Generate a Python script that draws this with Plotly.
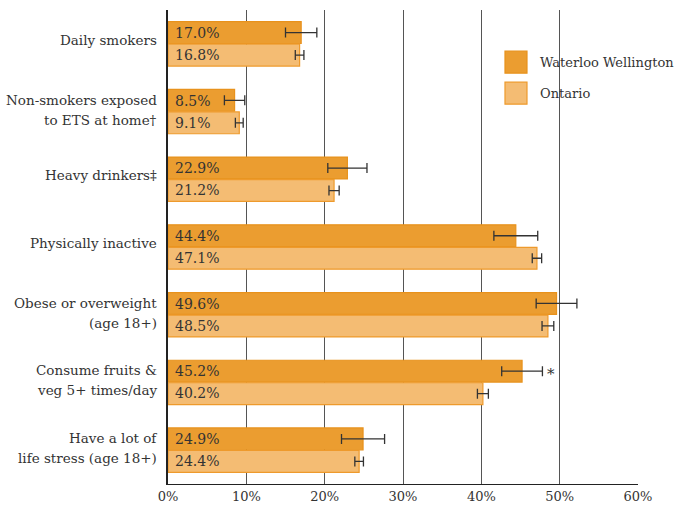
import plotly.graph_objects as go

categories = ["Daily smokers", "Non-smokers exposed<br>to ETS at home†", "Heavy drinkers‡",
              "Physically inactive", "Obese or overweight<br>(age 18+)",
              "Consume fruits &<br>veg 5+ times/day", "Have a lot of<br>life stress (age 18+)"]
ww_values = [17.0, 8.5, 22.9, 44.4, 49.6, 45.2, 24.9]
ww_err = [2.0, 1.3, 2.5, 2.8, 2.6, 2.6, 2.75]
on_values = [16.8, 9.1, 21.2, 47.1, 48.5, 40.2, 24.4]
on_err = [0.55, 0.5, 0.65, 0.6, 0.75, 0.7, 0.55]
x_ticks = [0, 10, 20, 30, 40, 50, 60]
series_names = ["Waterloo Wellington", "Ontario"]

FONT = "DejaVu Serif"
TXT = "#333333"
WW_FILL, WW_LINE = "#EB9D30", "#E8921C"
ON_FILL, ON_LINE = "#F4BC73", "#EE9A2C"

fig = go.Figure()
for name, vals, errs, fill, line in [
    (series_names[0], ww_values, ww_err, WW_FILL, WW_LINE),
    (series_names[1], on_values, on_err, ON_FILL, ON_LINE),
]:
    fig.add_trace(go.Bar(
        y=categories, x=vals, orientation="h", name=name,
        marker=dict(color=fill, line=dict(color=line, width=1.2)),
        error_x=dict(type="data", array=errs, color="#333333", thickness=1.3, width=5),
        showlegend=False, hoverinfo="skip",
    ))

# category labels (drawn as annotations so line spacing can match)
for c in categories:
    lines = c.split("<br>")
    shifts = [4] if len(lines) == 1 else [12, -8]
    for ln, s in zip(lines, shifts):
        fig.add_annotation(xref="paper", x=0, y=c, text=ln, showarrow=False, xanchor="right",
                           xshift=-9, yshift=s, font=dict(family=FONT, size=13.5, color=TXT))

# value labels inside bars, at the left end
for vals, shift in [(ww_values, 11), (on_values, -11)]:
    for c, v in zip(categories, vals):
        fig.add_annotation(x=0, y=c, text=f"{v:.1f}%", showarrow=False, xanchor="left",
                           xshift=5, yshift=shift, font=dict(family=FONT, size=14, color=TXT))

# asterisk for significant difference
fig.add_annotation(x=ww_values[5] + ww_err[5], y=categories[5], text="*", showarrow=False,
                   xanchor="left", xshift=3, yshift=8, font=dict(family=FONT, size=15, color=TXT))

# manual legend
for i, (name, fill, line) in enumerate([(series_names[0], WW_FILL, WW_LINE), (series_names[1], ON_FILL, ON_LINE)]):
    y0 = 0.890 - i * 0.0655
    fig.add_shape(type="rect", xref="paper", yref="paper", x0=0.717, x1=0.717 + 22 / 470,
                  y0=y0 - 11 / 474, y1=y0 + 11 / 474, fillcolor=fill, line=dict(color=line, width=1.2))
    fig.add_annotation(xref="paper", yref="paper", x=0.717 + 33 / 470, y=y0, text=name, showarrow=False,
                       xanchor="left", yanchor="middle", font=dict(family=FONT, size=13, color=TXT))

fig.update_layout(
    width=678, height=510, barmode="group", bargap=0.335, bargroupgap=0.03,
    margin=dict(l=168, r=40, t=10, b=26, autoexpand=False),
    plot_bgcolor="white", paper_bgcolor="white",
    font=dict(family=FONT, size=13.5, color=TXT),
    xaxis=dict(range=[0, 60], tickvals=x_ticks, ticktext=[f"{t}%" for t in x_ticks],
               showgrid=True, gridcolor="#555555", gridwidth=1, zeroline=False,
               showline=True, linecolor="#222222", linewidth=1.2, ticks="", automargin=False,
               tickfont=dict(family=FONT, size=13, color=TXT), fixedrange=True),
    yaxis=dict(autorange="reversed", showline=True, linecolor="#222222", linewidth=1.5,
               ticks="", showgrid=False, showticklabels=False, automargin=False),
)

fig.write_html("out.html")
